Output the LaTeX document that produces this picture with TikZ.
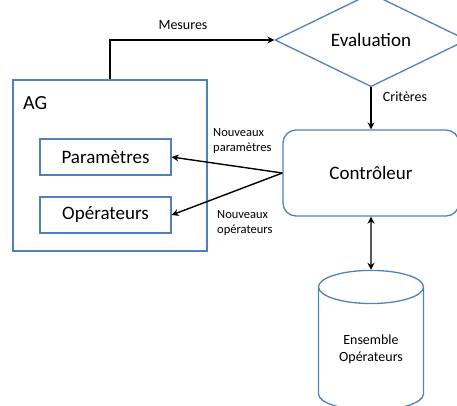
\documentclass[tikz,border=0pt]{standalone}
\usepackage{fontspec}
\setmainfont{Carlito}
\usetikzlibrary{shapes.geometric,arrows.meta}
\definecolor{officeblue}{RGB}{79,129,189}

\begin{document}
\begin{tikzpicture}[x=1pt,y=-1pt,
    box/.style={draw=officeblue,line width=1.3pt,inner sep=0pt,
      font=\fontsize{19}{22}\selectfont},
    link/.style={line width=1.4pt,-{Stealth[length=7pt,width=7pt]}},
    tag/.style={inner sep=0pt,font=\fontsize{14}{17}\selectfont},
    smalltag/.style={inner sep=0pt,align=left,font=\fontsize{12.5}{15}\selectfont}]
  \useasboundingbox (0,0) rectangle (457,405);
  \node[box,diamond,minimum width=192,minimum height=63] (eval) at (371,40) {Evaluation};
  \node[box,rounded corners=13pt,minimum width=176,minimum height=86] (ctrl) at (371,173) {Contrôleur};
  \node[box,minimum width=194,minimum height=171] (ag) at (110,165.5) {};
  \node[inner sep=0pt,anchor=west,font=\fontsize{20}{24}\selectfont] (agname) at (23,103) {AG};
  \node[box,minimum width=131,minimum height=36] (param) at (105.5,157) {Paramètres};
  \node[box,minimum width=131,minimum height=36] (oper) at (105.5,215) {Opérateurs};
  \node[box,cylinder,shape border rotate=90,aspect=0.52,minimum width=105,minimum height=140,
    align=center,font=\fontsize{14}{17}\selectfont] (base) at (371,349) {Ensemble\\Opérateurs};
  % liens
  \draw[link] (ag.north) |- (eval.west);
  \node[tag] (mesures) at (183,25) {Mesures};
  \draw[link] (eval.south) -- (ctrl.north);
  \node[tag] (criteres) at (405,97) {Critères};
  \draw[link] (ctrl.west) -- (param.east);
  \draw[link] (ctrl.west) -- (oper.east);
  \node[smalltag,anchor=north west] (newparam) at (213,128) {Nouveaux\\paramètres};
  \node[smalltag,anchor=north west] (newoper) at (217,210) {Nouveaux\\opérateurs};
  \draw[link,{Stealth[length=7pt,width=7pt]}-{Stealth[length=7pt,width=7pt]}] (ctrl.south) -- (base.north);
\end{tikzpicture}
\end{document}
